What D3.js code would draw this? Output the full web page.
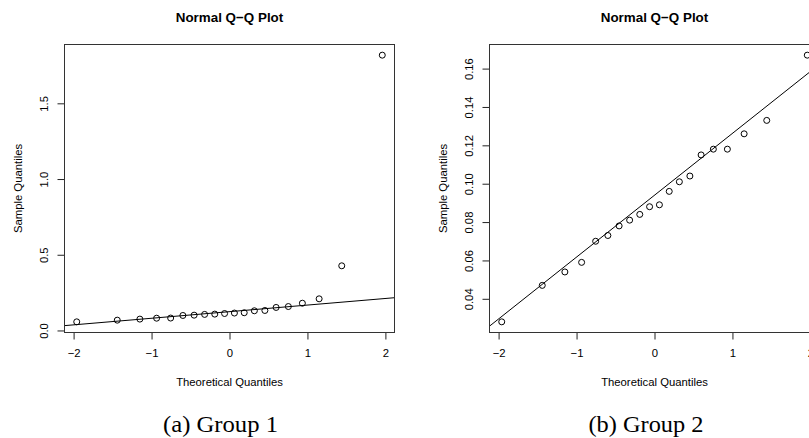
<!DOCTYPE html>
<html>
<head>
<meta charset="utf-8">
<script src="https://cdn.jsdelivr.net/npm/d3@7"></script>
<style>
  html, body { margin: 0; padding: 0; background: #fff; }
  svg { display: block; }
  text { fill: #000; }
</style>
</head>
<body>
<svg id="fig" width="809" height="438"></svg>
<script>
// Normal scores for a sample of 20 (shared by both groups)
const theoreticalQuantiles = [-1.96, -1.44, -1.15, -0.935, -0.755, -0.598, -0.454, -0.319, -0.189, -0.063,
                               0.063, 0.189, 0.319, 0.454, 0.598, 0.755, 0.935, 1.15, 1.44, 1.96];
// Sorted sample values
const group1Values = [0.057, 0.068, 0.075, 0.081, 0.082, 0.099, 0.101, 0.106, 0.108, 0.112,
                      0.115, 0.117, 0.130, 0.132, 0.152, 0.158, 0.180, 0.209, 0.427, 1.818];
const group2Values = [0.028, 0.047, 0.054, 0.059, 0.070, 0.073, 0.078, 0.081, 0.084, 0.088,
                      0.089, 0.096, 0.101, 0.104, 0.115, 0.118, 0.118, 0.126, 0.133, 0.167];
const xTicks = [-2, -1, 0, 1, 2];
const group1YTicks = [0, 0.5, 1.0, 1.5];
const group2YTicks = [0.04, 0.06, 0.08, 0.10, 0.12, 0.14, 0.16];
const captions = ["(a) Group 1", "(b) Group 2"];
const zQuartile = 0.6745; // standard normal upper quartile

const svg = d3.select("#fig");
const sans = "'Liberation Sans', Arial, Helvetica, sans-serif";
const serif = "'Liberation Serif', 'DejaVu Serif', serif";

// pad an extent by 4% on each side
function padded(vals) {
  const [lo, hi] = d3.extent(vals);
  const p = (hi - lo) * 0.04;
  return [lo - p, hi + p];
}

function qqPanel(opts) {
  const { left, values, yTicks, yFmt, caption, captionX, id } = opts;
  const top = 44.5, bottom = 332.5, width = 330;
  const x = d3.scaleLinear().domain(padded(theoreticalQuantiles)).range([left, left + width]);
  const y = d3.scaleLinear().domain(padded(values)).range([bottom, top]);
  const cx = left + width / 2;

  const g = svg.append("g");

  g.append("clipPath").attr("id", id)
    .append("rect").attr("x", left).attr("y", top).attr("width", width).attr("height", bottom - top);

  // title
  g.append("text").attr("x", cx).attr("y", 21.5)
    .attr("text-anchor", "middle").style("font-family", sans)
    .style("font-weight", "bold").style("font-size", "13.4px")
    .text("Normal Q\u2212Q Plot");

  // x axis
  const xAxis = g.append("g").attr("transform", `translate(0,${bottom})`)
    .call(d3.axisBottom(x).tickValues(xTicks).tickSize(7).tickPadding(9)
      .tickFormat(d => d3.format("d")(d).replace("-", "\u2212")));
  xAxis.select(".domain").remove();
  xAxis.selectAll("line").attr("stroke", "#222");
  xAxis.selectAll("text").style("font-family", sans).style("font-size", "11.3px").attr("fill", "#000");

  // y axis with rotated labels
  const yAxis = g.append("g").attr("transform", `translate(${left},0)`)
    .call(d3.axisLeft(y).tickValues(yTicks).tickSize(7).tickFormat(d3.format(yFmt)));
  yAxis.select(".domain").remove();
  yAxis.selectAll("line").attr("stroke", "#222");
  yAxis.selectAll("text")
    .attr("x", null).attr("dy", null)
    .attr("text-anchor", "middle")
    .attr("transform", "translate(-20,0) rotate(-90)")
    .attr("dy", "0.35em")
    .style("font-family", sans).style("font-size", "11.3px").attr("fill", "#000");

  // axis titles
  g.append("text").attr("x", cx).attr("y", 385.5)
    .attr("text-anchor", "middle").style("font-family", sans).style("font-size", "11.3px")
    .text("Theoretical Quantiles");
  g.append("text")
    .attr("transform", `translate(${left - 46},${(top + bottom) / 2}) rotate(-90)`)
    .attr("dy", "0.35em")
    .attr("text-anchor", "middle").style("font-family", sans).style("font-size", "11.3px")
    .text("Sample Quantiles");

  // reference line through the quartiles
  const q1 = d3.quantile(values, 0.25), q3 = d3.quantile(values, 0.75);
  const slope = (q3 - q1) / (2 * zQuartile);
  const intercept = q1 + slope * zQuartile;
  const [x0, x1] = x.domain();
  g.append("line").attr("clip-path", `url(#${id})`)
    .attr("x1", x(x0)).attr("y1", y(intercept + slope * x0))
    .attr("x2", x(x1)).attr("y2", y(intercept + slope * x1))
    .attr("stroke", "#000").attr("stroke-width", 1);

  // points
  g.append("g").selectAll("circle").data(values).join("circle")
    .attr("cx", (d, i) => x(theoreticalQuantiles[i]))
    .attr("cy", d => y(d))
    .attr("r", 3)
    .attr("fill", "none").attr("stroke", "#000").attr("stroke-width", 1);

  // plot frame
  g.append("rect").attr("x", left).attr("y", top).attr("width", width).attr("height", bottom - top)
    .attr("fill", "none").attr("stroke", "#333").attr("stroke-width", 1);

  // caption
  g.append("text").attr("x", captionX).attr("y", 432)
    .attr("text-anchor", "middle").style("font-family", serif).style("font-size", "23px")
    .attr("textLength", 115).attr("lengthAdjust", "spacingAndGlyphs")
    .text(caption);
}

qqPanel({ id: "clipA", left: 64.5, values: group1Values, yTicks: group1YTicks, yFmt: ".1f",
          caption: captions[0], captionX: 220.5 });
qqPanel({ id: "clipB", left: 489.5, values: group2Values, yTicks: group2YTicks, yFmt: ".2f",
          caption: captions[1], captionX: 646 });
</script>
</body>
</html>
